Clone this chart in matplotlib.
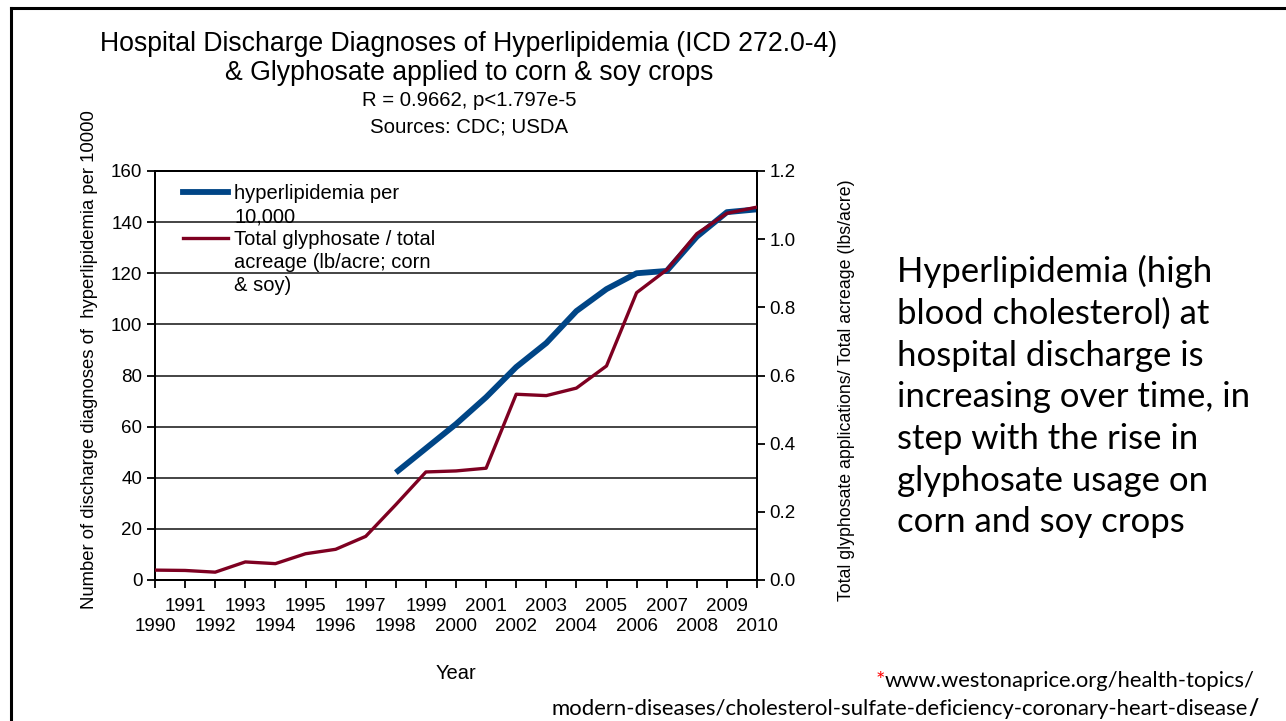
import matplotlib
matplotlib.use("Agg")
import matplotlib.pyplot as plt
from matplotlib.lines import Line2D

years = list(range(1990, 2011))
hyper_years = list(range(1998, 2011))
hyperlipidemia = [42.0, 51.5, 61.0, 71.5, 83.3, 92.7, 105.2, 113.8, 120.0, 120.9, 134.3, 143.9, 145.0]
glyphosate = [0.029, 0.028, 0.023, 0.053, 0.048, 0.077, 0.090, 0.128, 0.221, 0.317,
              0.320, 0.328, 0.545, 0.541, 0.563, 0.628, 0.843, 0.910, 1.016, 1.076, 1.094]
odd_years = [y for y in years if y % 2]
even_years = [y for y in years if y % 2 == 0]
left_ticks = [0, 20, 40, 60, 80, 100, 120, 140, 160]
right_ticks = [0.0, 0.2, 0.4, 0.6, 0.8, 1.0, 1.2]

BLUE = "#004586"
RED = "#7e0021"
SANS = ["Liberation Sans", "DejaVu Sans"]
BODY = ["Lato", "DejaVu Sans"]

fig = plt.figure(figsize=(12.86, 7.21), dpi=100)
ax = fig.add_axes([155/1286, 1-580/721, (757-155)/1286, (580-171)/721])
ax2 = ax.twinx()

ax.set_xlim(1990, 2010)
ax.set_ylim(0, 160)
ax2.set_ylim(0, 1.2)

ax.set_yticks(left_ticks)
ax.grid(axis="y", color="#111111", linewidth=1.1)
ax.set_axisbelow(True)

ax.plot(hyper_years, hyperlipidemia, color=BLUE, linewidth=4.2, solid_capstyle="butt", zorder=3)
ax2.plot(years, glyphosate, color=RED, linewidth=2.4, zorder=4)

ax.set_xticks(odd_years)
ax.set_xticklabels([str(y) for y in odd_years])
ax.set_xticks(even_years, minor=True)
ax.set_xticklabels([str(y) for y in even_years], minor=True)
ax2.set_yticks(right_ticks)
ax2.set_yticklabels([f"{v:.1f}" for v in right_ticks])

for a in (ax, ax2):
    for s in a.spines.values():
        s.set_linewidth(1.4)
        s.set_color("black")
    a.tick_params(which="both", length=6, width=1.3, direction="out", labelsize=13.5,
                  colors="black", pad=3)
ax.tick_params(axis="x", which="major", pad=6.8)
ax.tick_params(axis="x", which="minor", pad=21.5)
for lab in (ax.get_xticklabels() + ax.get_xticklabels(minor=True) +
            ax.get_yticklabels() + ax2.get_yticklabels()):
    lab.set_family(SANS)

ax.set_ylabel("Number of discharge diagnoses of  hyperlipidemia per 10000", family=SANS,
              fontsize=13.3)
ax.yaxis.set_label_coords(-0.095, 0.538)
ax2.set_ylabel("Total glyphosate applications/ Total acreage (lbs/acre)", family=SANS,
               fontsize=12.8)
ax2.yaxis.set_label_coords(1.134, 0.4645)
ax.set_xlabel("Year", family=SANS, fontsize=14.5, labelpad=21)

# legend (no frame), handles next to first line of each label
blank = Line2D([], [], color="none")
handles = [Line2D([], [], color=BLUE, lw=4.2), blank,
           Line2D([], [], color=RED, lw=2.4), blank, blank]
labels = ["hyperlipidemia per", "10,000", "Total glyphosate / total",
          "acreage (lb/acre; corn", "& soy)"]
leg = ax.legend(handles, labels, loc="upper left", bbox_to_anchor=(0.0465, 0.968), frameon=False,
                prop={"family": SANS, "size": 14.5}, handlelength=2.25, handletextpad=0.3,
                labelspacing=0.2, borderaxespad=0, borderpad=0)
leg.set_zorder(10)

# titles
fig.text(469/1286, 1-44/721, "Hospital Discharge Diagnoses of Hyperlipidemia (ICD 272.0-4)",
         ha="center", va="center", family=SANS, fontsize=19.2)
fig.text(469/1286, 1-73/721, "& Glyphosate applied to corn & soy crops",
         ha="center", va="center", family=SANS, fontsize=19.2)
fig.text(469/1286, 1-101/721, "R = 0.9662, p<1.797e-5",
         ha="center", va="center", family=SANS, fontsize=14.7)
fig.text(469/1286, 1-127/721, "Sources: CDC; USDA",
         ha="center", va="center", family=SANS, fontsize=14.7)

# annotation text
fig.text(897/1286, 1-255/721,
         "Hyperlipidemia (high\nblood cholesterol) at\nhospital discharge is\nincreasing over time, in\n"
         "step with the rise in\nglyphosate usage on\ncorn and soy crops",
         ha="left", va="top", family=BODY, fontsize=25, linespacing=1.37)

# footnote
url1 = fig.text(1255/1286, 1-681/721, "www.westonaprice.org/health-topics/", ha="right", va="center",
                family=BODY, fontsize=15.8)
fig.text(1248/1286, 1-709/721, "modern-diseases/cholesterol-sulfate-deficiency-coronary-heart-disease",
         ha="right", va="center", family=BODY, fontsize=15.9)

fig.canvas.draw()
r = fig.canvas.get_renderer()
bb = url1.get_window_extent(r)
fig.text(bb.x0 / 1286, 1-681/721, "*", ha="right", va="center", color="#ff0000",
         family=BODY, fontsize=15.8)
fig.text(1248.5/1286, 1-709/721, "/", ha="left", va="center", fontweight="bold",
         family=BODY, fontsize=15.8)

# slide border
fig.add_artist(Line2D([11/1286, 11/1286], [0, 1-8/721], color="black", lw=2.2, transform=fig.transFigure))
fig.add_artist(Line2D([11/1286, 1], [1-8/721, 1-8/721], color="black", lw=2.2, transform=fig.transFigure))

fig.savefig("out.png", dpi=100)
